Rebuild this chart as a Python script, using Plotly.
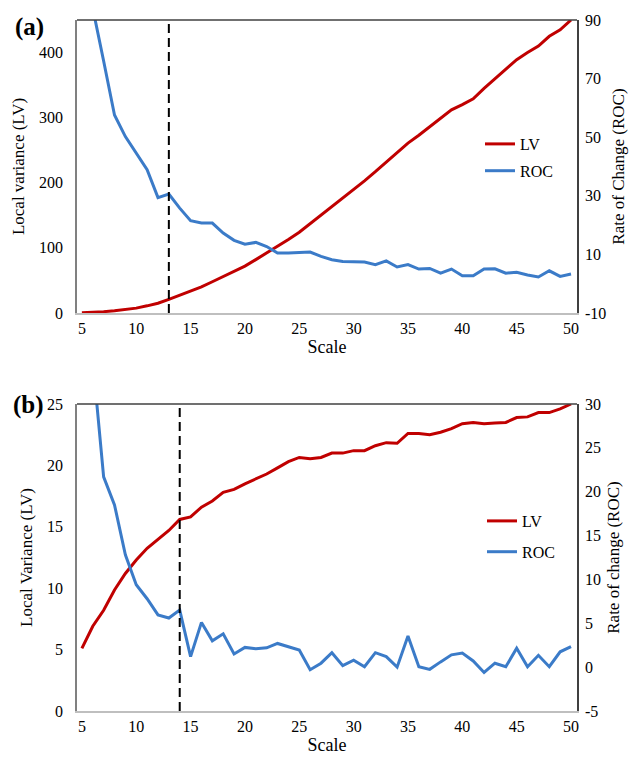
import plotly.graph_objects as go

# ---------------- data ----------------
scale = list(range(5, 51))

lv_a = [0.5, 1, 2, 3.5, 5, 7.5, 11, 15, 21, 27, 33, 40, 48, 56, 64, 72, 82, 92, 102, 113,
        124, 137, 150, 163, 176, 190, 203, 217, 232, 246, 261, 273, 286, 298, 312, 320, 329,
        345, 360, 375, 389, 400, 410, 425, 435, 450]
roc_a = [115, 94, 76, 57.6, 50.2, 44.5, 38.9, 29.4, 30.6, 25.8, 21.5, 20.7, 20.7, 17.3, 14.8,
         13.5, 14.1, 12.7, 10.5, 10.5, 10.7, 10.8, 9.3, 8.2, 7.6, 7.6, 7.4, 6.5, 7.8, 5.7, 6.5,
         5.0, 5.2, 3.6, 5.0, 2.7, 2.7, 5.0, 5.1, 3.6, 3.9, 3.0, 2.3, 4.4, 2.5, 3.3]

lv_b = [5.1, 6.9, 8.2, 9.85, 11.2, 12.3, 13.25, 14.0, 14.7, 15.6, 15.8, 16.6, 17.1, 17.8, 18.05,
        18.5, 18.9, 19.3, 19.8, 20.3, 20.65, 20.55, 20.65, 21.0, 21.0, 21.2, 21.2, 21.6, 21.85,
        21.8, 22.6, 22.6, 22.5, 22.7, 23.0, 23.4, 23.5, 23.4, 23.45, 23.5, 23.9, 23.95, 24.3,
        24.3, 24.6, 25.0]
roc_b = [50, 35, 21.7, 18.5, 12.8, 9.4, 7.8, 5.95, 5.6, 6.5, 1.2, 5.1, 3.0, 3.8, 1.5, 2.25, 2.1,
         2.2, 2.7, 2.3, 1.95, -0.3, 0.45, 1.65, 0.17, 0.8, 0.05, 1.65, 1.2, 0.0, 3.55, 0.05,
         -0.25, 0.6, 1.4, 1.6, 0.7, -0.6, 0.45, 0.05, 2.15, 0.05, 1.35, 0.05, 1.75, 2.35]

cut_a = 13
cut_b = 14

x_ticks = [5, 10, 15, 20, 25, 30, 35, 40, 45, 50]
lv_ticks_a = [0, 100, 200, 300, 400]
roc_ticks_a = [-10, 10, 30, 50, 70, 90]
lv_ticks_b = [0, 5, 10, 15, 20, 25]
roc_ticks_b = [-5, 0, 5, 10, 15, 20, 25, 30]

# ---------------- style ----------------
RED = "#C00000"
BLUE = "#3B7BC8"
FONT = "Liberation Serif"
W, H = 630, 760

def px_x(p):
    return p / W

def px_y(p):
    return 1 - p / H

fig = go.Figure()

fig.add_trace(go.Scatter(x=scale, y=lv_a, name="LV", mode="lines",
                         line=dict(color=RED, width=3), xaxis="x", yaxis="y",
                         legend="legend", legendgroup="a1"))
fig.add_trace(go.Scatter(x=scale, y=roc_a, name="ROC", mode="lines",
                         line=dict(color=BLUE, width=3), xaxis="x", yaxis="y2",
                         legend="legend", legendgroup="a2"))
fig.add_trace(go.Scatter(x=scale, y=lv_b, name="LV", mode="lines",
                         line=dict(color=RED, width=3), xaxis="x2", yaxis="y3",
                         legend="legend2", legendgroup="b1"))
fig.add_trace(go.Scatter(x=scale, y=roc_b, name="ROC", mode="lines",
                         line=dict(color=BLUE, width=3), xaxis="x2", yaxis="y4",
                         legend="legend2", legendgroup="b2"))

dom_x = [px_x(77), px_x(577)]
dom_a = [px_y(313), px_y(20)]
dom_b = [px_y(711), px_y(404)]

tickfont = dict(family=FONT, size=16, color="black")
ytitlefont = dict(family=FONT, size=17, color="black")
xtitlefont = dict(family=FONT, size=18, color="black")

def labels(vals):
    return [str(v) for v in vals]

def xaxis(anchor):
    return dict(domain=dom_x, anchor=anchor, range=[4.55, 50.55], tickvals=x_ticks,
                ticktext=labels(x_ticks), automargin=False,
                showgrid=False, zeroline=False, showline=True, linecolor="#BFBFBF",
                linewidth=1.5, ticks="", tickfont=tickfont, ticklabelstandoff=0,
                title=dict(text="Scale", font=xtitlefont, standoff=3))

def yleft(dom, rng, tv, title, anchor):
    return dict(domain=dom, anchor=anchor, range=rng, tickvals=tv, ticktext=labels(tv),
                automargin=False, showgrid=False,
                zeroline=False, showline=True, linecolor="#808080", linewidth=1.5,
                ticks="", tickfont=tickfont, ticklabelstandoff=9,
                title=dict(text=title, font=ytitlefont, standoff=10))

def yright(overlay, rng, tv, title, anchor):
    return dict(overlaying=overlay, side="right", anchor=anchor, range=rng, tickvals=tv,
                ticktext=labels(tv), automargin=False,
                showgrid=False, zeroline=False, showline=True, linecolor="#404040",
                linewidth=1.5, ticks="", tickfont=tickfont, ticklabelstandoff=3,
                title=dict(text=title, font=ytitlefont, standoff=7))

fig.update_layout(
    width=W, height=H, margin=dict(l=0, r=0, t=0, b=0),
    paper_bgcolor="white", plot_bgcolor="white",
    font=dict(family=FONT, color="black"),
    xaxis=xaxis("y"),
    yaxis=yleft(dom_a, [0, 450], lv_ticks_a, "Local variance (LV)", "x"),
    yaxis2=yright("y", [-10, 90], roc_ticks_a, "Rate of Change (ROC)", "x"),
    xaxis2=xaxis("y3"),
    yaxis3=yleft(dom_b, [0, 25], lv_ticks_b, "Local Variance (LV)", "x2"),
    yaxis4=yright("y3", [-5, 30], roc_ticks_b, "Rate of change (ROC)", "x2"),
    legend=dict(x=px_x(480), y=px_y(127), xanchor="left", yanchor="top",
                bgcolor="rgba(0,0,0,0)", font=dict(family=FONT, size=16, color="black"),
                tracegroupgap=3, itemwidth=30),
    legend2=dict(x=px_x(482), y=px_y(504), xanchor="left", yanchor="top",
                 bgcolor="rgba(0,0,0,0)", font=dict(family=FONT, size=16, color="black"),
                 tracegroupgap=7, itemwidth=30),
)

# top frame lines
for xr, yr in (("x", "y"), ("x2", "y3")):
    fig.add_shape(type="line", xref=f"{xr} domain", yref=f"{yr} domain",
                  x0=0, x1=1, y0=1, y1=1, line=dict(color="#404040", width=1.5))

# dashed vertical cut lines
fig.add_shape(type="line", xref="x", yref="y domain", x0=cut_a, x1=cut_a, y0=0, y1=1,
              line=dict(color="black", width=2, dash="9px,5px"))
fig.add_shape(type="line", xref="x2", yref="y3 domain", x0=cut_b, x1=cut_b, y0=0, y1=1,
              line=dict(color="black", width=2, dash="9px,5px"))

# panel labels
fig.add_annotation(text="<b>(a)</b>", xref="paper", yref="paper", x=px_x(13), y=px_y(27),
                   xanchor="left", yanchor="middle", showarrow=False,
                   font=dict(family=FONT, size=25, color="black"))
fig.add_annotation(text="<b>(b)</b>", xref="paper", yref="paper", x=px_x(11), y=px_y(405),
                   xanchor="left", yanchor="middle", showarrow=False,
                   font=dict(family=FONT, size=25, color="black"))

fig.write_html("out.html", config={"displayModeBar": False},
               post_script="document.body.style.margin='0';")
